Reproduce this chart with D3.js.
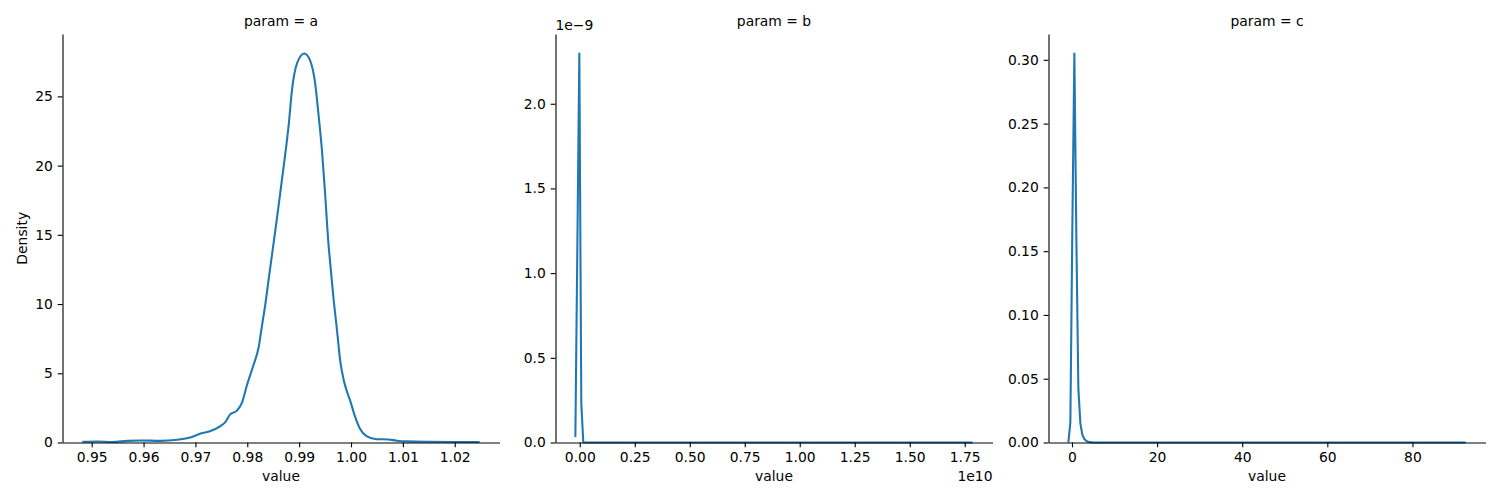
<!DOCTYPE html>
<html lang="en">
<head>
  <meta charset="utf-8">
  <title>param density facets</title>
  <style>
    body { margin: 0; background: white; }
    svg text { font-family: "DejaVu Sans", sans-serif; fill: #000; }
    .kde { fill: none; stroke: #1f77b4; stroke-width: 2.08; stroke-linejoin: round; }
    .axis path, .axis line { stroke: #000; stroke-width: 1.11; }
    .axis text { font-size: 13.89px; }
  </style>
</head>
<body>
<div id="chart"></div>
<script src="https://d3js.org/d3.v7.min.js"></script>
<script>
// facet names
const params = ['a', 'b', 'c'];

// param = a : kde curve
const aValue = [0.9482, 0.9510, 0.9540, 0.9569, 0.9594, 0.9633, 0.9665, 0.9690, 0.9710, 0.9729,
  0.9748, 0.9758, 0.9767, 0.9780, 0.9790, 0.9799, 0.9812, 0.9822, 0.9828, 0.9835,
  0.9841, 0.9848, 0.9854, 0.9860, 0.9870, 0.9880, 0.9886, 0.9896, 0.9910, 0.9921,
  0.9931, 0.9937, 0.9944, 0.9950, 0.9956, 0.9960, 0.9966, 0.9973, 0.9979, 0.9986,
  0.9992, 0.9998, 1.0008, 1.0017, 1.0030, 1.0049, 1.0072, 1.0088, 1.0107, 1.0150,
  1.0200, 1.0248];
const aDensity = [0.05, 0.07, 0.04, 0.12, 0.15, 0.12, 0.2, 0.36, 0.65, 0.83,
  1.18, 1.49, 2.03, 2.3, 2.9, 4.1, 5.6, 6.9, 8.35, 10.04,
  11.73, 13.66, 15.3, 17.0, 19.9, 23.0, 25.4, 27.4, 28.1, 27.6,
  25.9, 23.8, 21.1, 18.0, 14.6, 12.9, 10.5, 8.1, 5.95, 4.5,
  3.7, 3.06, 1.85, 1.01, 0.46, 0.24, 0.22, 0.13, 0.08, 0.05,
  0.04, 0.04];

// param = b : one huge spike near zero, flat to 1.786e10
const bValue = [-0.020e10, -0.011e10, -0.002e10, 0.007e10, 0.016e10, 0.025e10, 1.786e10];
const bDensity = [0.033e-9, 1.15e-9, 2.297e-9, 0.23e-9, 0.002e-9, 0, 0];

// param = c : spike near 0.5, long flat tail to ~92.5
const cValue = [-0.85, -0.38, 0.09, 0.56, 1.03, 1.50, 1.97, 2.44, 2.91, 3.38, 3.85, 4.32, 4.79, 92.5];
const cDensity = [0.0, 0.016, 0.17, 0.305, 0.16, 0.042, 0.015, 0.006, 0.0028, 0.0012, 0.0006, 0.0003, 0.0001, 0];

// tick values
const aXTicks = [0.95, 0.96, 0.97, 0.98, 0.99, 1.00, 1.01, 1.02];
const aYTicks = [0, 5, 10, 15, 20, 25];
const bXTicks = [0, 0.25e10, 0.5e10, 0.75e10, 1e10, 1.25e10, 1.5e10, 1.75e10];
const bYTicks = [0, 0.5e-9, 1e-9, 1.5e-9, 2e-9];
const cXTicks = [0, 20, 40, 60, 80];
const cYTicks = [0, 0.05, 0.10, 0.15, 0.20, 0.25, 0.30];

const W = 1500, H = 500;
const plotTop = 34, plotBottom = 442.5, panelW = 437;
const lefts = [62.5, 555.5, 1048.5];
const tick = 4.86;
const fontPx = '13.89px';

const svg = d3.select('#chart').append('svg')
  .attr('width', W)
  .attr('height', H);

const facets = [
  { x: aValue, y: aDensity, xt: aXTicks, yt: aYTicks,
    fx: d3.format('.2f'), fy: d3.format('d'), curve: d3.curveMonotoneX },
  { x: bValue, y: bDensity, xt: bXTicks, yt: bYTicks,
    fx: v => (v / 1e10).toFixed(2), fy: v => (v / 1e-9).toFixed(1), curve: d3.curveLinear,
    xOffset: '1e10', yOffset: '1e\u22129' },
  { x: cValue, y: cDensity, xt: cXTicks, yt: cYTicks,
    fx: d3.format('d'), fy: d3.format('.2f'), curve: d3.curveLinear }
];

facets.forEach((f, i) => {
  const left = lefts[i];
  const right = left + panelW;

  // matplotlib style 5% margins on x, top margin on y
  const [x0, x1] = d3.extent(f.x);
  const pad = (x1 - x0) * 0.05;
  const x = d3.scaleLinear().domain([x0 - pad, x1 + pad]).range([left, right]);
  const y = d3.scaleLinear().domain([0, d3.max(f.y) * 1.05]).range([plotBottom, plotTop]);

  const pts = f.x.map((v, j) => [v, f.y[j]]);

  svg.append('path')
    .datum(pts)
    .attr('class', 'kde')
    .attr('d', d3.line().x(d => x(d[0])).y(d => y(d[1])).curve(f.curve));

  svg.append('g')
    .attr('class', 'axis')
    .attr('transform', `translate(0,${plotBottom})`)
    .call(d3.axisBottom(x).tickValues(f.xt).tickFormat(f.fx)
      .tickSize(tick).tickSizeOuter(0).tickPadding(tick));

  svg.append('g')
    .attr('class', 'axis')
    .attr('transform', `translate(${left},0)`)
    .call(d3.axisLeft(y).tickValues(f.yt).tickFormat(f.fy)
      .tickSize(tick).tickSizeOuter(0).tickPadding(tick));

  svg.selectAll('.axis').attr('font-family', null).attr('font-size', null);

  // facet title
  svg.append('text')
    .attr('x', (left + right) / 2)
    .attr('y', 25.7)
    .attr('text-anchor', 'middle')
    .style('font-size', fontPx)
    .text('param = ' + params[i]);

  // x label
  svg.append('text')
    .attr('x', (left + right) / 2)
    .attr('y', 481)
    .attr('text-anchor', 'middle')
    .style('font-size', fontPx)
    .text('value');

  if (f.xOffset) {
    svg.append('text')
      .attr('x', right)
      .attr('y', 481)
      .attr('text-anchor', 'end')
      .style('font-size', fontPx)
      .text(f.xOffset);
  }
  if (f.yOffset) {
    svg.append('text')
      .attr('x', left)
      .attr('y', 29.5)
      .style('font-size', fontPx)
      .text(f.yOffset);
  }
});

// y label only on first facet
svg.append('text')
  .attr('transform', `translate(26.5,${(plotTop + plotBottom) / 2}) rotate(-90)`)
  .attr('text-anchor', 'middle')
  .style('font-size', fontPx)
  .text('Density');
</script>
</body>
</html>
